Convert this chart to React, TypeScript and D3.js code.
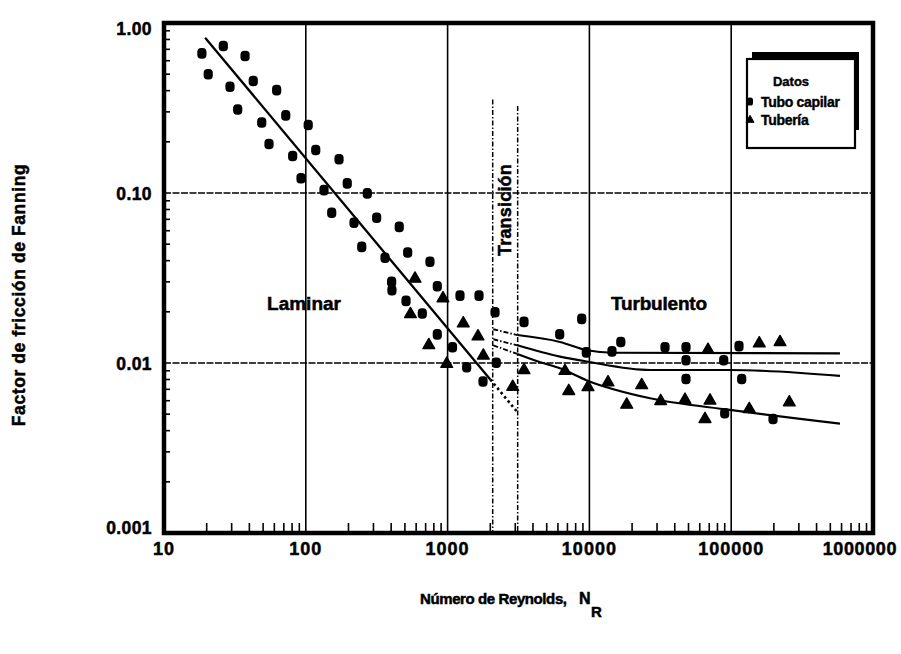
import React from "react";
import * as d3 from "d3";

// Capillary-tube measurements (Reynolds number, Fanning friction factor)
const capillaryRe = [18.5, 26.2, 20.5, 37.3, 29.2, 42.6, 33.1, 62.3, 48.9, 72.2, 55.0, 104, 80.8, 117.5, 92.5, 171.5, 134.4, 196, 271.5, 152.3, 218.8, 316, 456, 248, 362, 523, 751, 403, 405, 846, 1223, 1665, 509, 663, 2160, 3458, 846, 1083, 2205, 1363, 1777, 8825, 6173, 16650, 9508, 14430, 34130, 47990, 47990, 47990, 88540, 113500, 118600, 89980, 197200];
const capillaryF = [0.663, 0.732, 0.499, 0.639, 0.422, 0.456, 0.31, 0.403, 0.26, 0.286, 0.194, 0.251, 0.165, 0.179, 0.122, 0.158, 0.104, 0.114, 0.0995, 0.0765, 0.0668, 0.0715, 0.0632, 0.0482, 0.0416, 0.0447, 0.0394, 0.030, 0.0268, 0.0283, 0.0249, 0.0249, 0.0232, 0.01955, 0.0199, 0.01745, 0.01474, 0.01239, 0.01004, 0.00945, 0.00779, 0.01818, 0.01477, 0.0133, 0.01155, 0.0117, 0.01239, 0.01239, 0.01039, 0.00805, 0.01039, 0.01256, 0.00805, 0.00506, 0.00468];

// Pipe measurements
const pipeRe = [589, 928, 547, 1290, 1638, 737, 1786, 986, 3458, 2879, 6727, 7155, 9774, 13530, 23380, 18330, 31820, 47220, 70880, 65340, 134100, 256900, 68610, 157800, 220900];
const pipeF = [0.0313, 0.024, 0.01937, 0.01708, 0.01432, 0.01273, 0.01104, 0.00988, 0.00907, 0.00723, 0.00897, 0.00684, 0.0072, 0.00769, 0.0074, 0.00568, 0.00597, 0.00607, 0.00601, 0.00468, 0.00536, 0.00586, 0.01194, 0.01302, 0.01326];

// Laminar law (f = 16 / Re) and its extension into the transition zone
const laminarRe = [19.5, 2000];
const laminarF = [0.82, 0.008];
const laminarExtRe = [2000, 3070];
const laminarExtF = [0.008, 0.0052];

// Turbulent correlations
const upperRe = [2100, 3100, 6200, 9600, 14700, 585000];
const upperF = [0.0158, 0.0146, 0.0133, 0.0119, 0.0115, 0.0114];
const middleRe = [2100, 3100, 6200, 9600, 26800, 98000, 585000];
const middleF = [0.0138, 0.0127, 0.0109, 0.0102, 0.0091, 0.0091, 0.0084];
const lowerRe = [2100, 3100, 4500, 6200, 9600, 26800, 98000, 585000];
const lowerF = [0.0127, 0.0113, 0.0101, 0.0093, 0.0079, 0.0062, 0.0053, 0.0044];

// Transition zone limits
const transitionRe = [2080, 3120];
const transitionTopF = [0.355, 0.325];

const xTickValues = [10, 100, 1000, 10000, 100000, 1000000];
const xTickLabels = ["10", "100", "1000", "10000", "100000", "1000000"];
const yTickValues = [1, 0.1, 0.01, 0.001];
const yTickLabels = ["1.00", "0.10", "0.01", "0.001"];

const FONT = "'Liberation Sans', Arial, sans-serif";

export default function App() {
  const width = 901;
  const height = 654;
  const x = d3.scaleLog().domain([10, 1e6]).range([164, 873]);
  const y = d3.scaleLog().domain([0.001, 1]).range([533, 23]);
  const [x0, x1] = x.range();
  const [y0, y1] = y.range();

  const line = d3
    .line<[number, number]>()
    .x((d) => x(d[0]))
    .y((d) => y(d[1]))
    .curve(d3.curveMonotoneX);

  const zip = (a: number[], b: number[]) => a.map((v, i) => [v, b[i]] as [number, number]);

  const curves = [zip(upperRe, upperF), zip(middleRe, middleF), zip(lowerRe, lowerF)];

  const minorX: number[] = [];
  for (let e = 1; e < 6; e++) for (let m = 2; m <= 9; m++) minorX.push(m * Math.pow(10, e));
  const minorY: number[] = [];
  for (let e = -3; e < 0; e++) for (let m = 2; m <= 9; m++) minorY.push(m * Math.pow(10, e));

  const tri = d3.symbol().type(d3.symbolTriangle).size(60)() as string;
  const triSmall = d3.symbol().type(d3.symbolTriangle).size(28)() as string;

  // heavy, slightly bloated lettering
  const ink = { fill: "#000", stroke: "#000", strokeWidth: 0.5 };

  return (
    <svg width={width} height={height} style={{ display: "block", position: "absolute", left: 0, top: 0, background: "#fff" }}>
      <rect x={0} y={0} width={width} height={height} fill="#fff" />

      {/* decade grid */}
      {[100, 1000, 10000, 100000].map((v) => (
        <line key={"gx" + v} x1={x(v)} x2={x(v)} y1={y1} y2={y0} stroke="#000" strokeWidth={1.6} />
      ))}
      {[0.1, 0.01].map((v) => (
        <line key={"gy" + v} x1={x0} x2={x1} y1={y(v)} y2={y(v)} stroke="#000" strokeWidth={1.5} strokeDasharray="7,1.5" />
      ))}

      {/* minor ticks */}
      {minorX.map((v) => (
        <line key={"mx" + v} x1={x(v)} x2={x(v)} y1={y0} y2={y0 - 10} stroke="#000" strokeWidth={1.6} />
      ))}
      {minorY.map((v) => (
        <line key={"my" + v} x1={x0} x2={x0 + 6} y1={y(v)} y2={y(v)} stroke="#000" strokeWidth={1.6} />
      ))}

      {/* transition limits */}
      {transitionRe.map((v, i) => (
        <line key={"tr" + v} x1={x(v)} x2={x(v)} y1={y(transitionTopF[i])} y2={y0} stroke="#000" strokeWidth={1.5} strokeDasharray="5,2,1.5,2" />
      ))}

      {/* laminar law */}
      <path d={line(zip(laminarRe, laminarF)) as string} fill="none" stroke="#000" strokeWidth={2.3} />
      <path d={line(zip(laminarExtRe, laminarExtF)) as string} fill="none" stroke="#000" strokeWidth={2.6} strokeDasharray="2.5,3" />

      {/* turbulent correlations */}
      {curves.map((c, i) => (
        <g key={"c" + i}>
          <path d={line(c.slice(0, 2)) as string} fill="none" stroke="#000" strokeWidth={1.9} strokeDasharray="5,2,1.5,2" />
          <path d={line(c.slice(1)) as string} fill="none" stroke="#000" strokeWidth={2.1} />
        </g>
      ))}

      {/* data */}
      {capillaryRe.map((v, i) => (
        <rect key={"cp" + i} x={x(v) - 4.6} y={y(capillaryF[i]) - 5.3} width={9.2} height={10.6} rx={4} ry={4} fill="#000" />
      ))}
      {pipeRe.map((v, i) => (
        <path key={"pp" + i} d={tri} transform={`translate(${x(v)},${y(pipeF[i])})`} fill="#000" stroke="#000" strokeWidth={1.4} strokeLinejoin="round" />
      ))}

      {/* frame */}
      <rect x={x0} y={y1} width={x1 - x0} height={y0 - y1} fill="none" stroke="#000" strokeWidth={4.5} />

      {/* region labels */}
      <g fontFamily={FONT} fontWeight="bold" {...ink}>
        <text x={304} y={310} fontSize={19} textAnchor="middle" letterSpacing={0}>Laminar</text>
        <text x={659} y={310} fontSize={19} textAnchor="middle" letterSpacing={-0.2}>Turbulento</text>
        <text transform="translate(511,210) rotate(-90)" fontSize={18} textAnchor="middle" letterSpacing={0.2}>Transición</text>
      </g>

      {/* legend */}
      <g fontFamily={FONT} fontWeight="bold">
        <rect x={752} y={52} width={107} height={78} fill="#000" />
        <rect x={747} y={59} width={108} height={89} fill="#fff" stroke="#000" strokeWidth={2.2} />
        <g {...ink} strokeWidth={0.4}>
          <text x={791} y={86} fontSize={13} textAnchor="middle">Datos</text>
          <text x={761} y={107} fontSize={14} letterSpacing={-0.3}>Tubo capilar</text>
          <text x={761} y={125} fontSize={14} letterSpacing={-0.3}>Tubería</text>
        </g>
        <rect x={747} y={97.5} width={6} height={8} rx={2.6} fill="#000" />
        <path d={triSmall} transform="translate(750,120)" fill="#000" stroke="#000" strokeWidth={1} strokeLinejoin="round" />
      </g>

      {/* axes labels */}
      <g fontFamily={FONT} fontWeight="bold" {...ink}>
        {xTickValues.map((v, i) => {
          const last = i === xTickValues.length - 1;
          return (
            <text key={"xl" + v} x={last ? 897 : x(v)} y={555} fontSize={18} textAnchor={last ? "end" : "middle"} letterSpacing={last ? 0.6 : 1}>
              {xTickLabels[i]}
            </text>
          );
        })}
        {yTickValues.map((v, i) => {
          const cy = Math.min(Math.max(y(v), y1 + 5), y0 - 6);
          return (
            <text key={"yl" + v} x={152} y={cy + 6.5} fontSize={17.5} textAnchor="end" letterSpacing={0.4}>
              {yTickLabels[i]}
            </text>
          );
        })}
        <text x={420} y={604} fontSize={15} letterSpacing={-0.4}>Número de Reynolds,</text>
        <text x={579} y={604} fontSize={16}>N</text>
        <text x={591} y={617} fontSize={15}>R</text>
        <text transform="translate(25,295) rotate(-90)" fontSize={17.5} textAnchor="middle" letterSpacing={0.6}>Factor de fricción de Fanning</text>
      </g>
    </svg>
  );
}
